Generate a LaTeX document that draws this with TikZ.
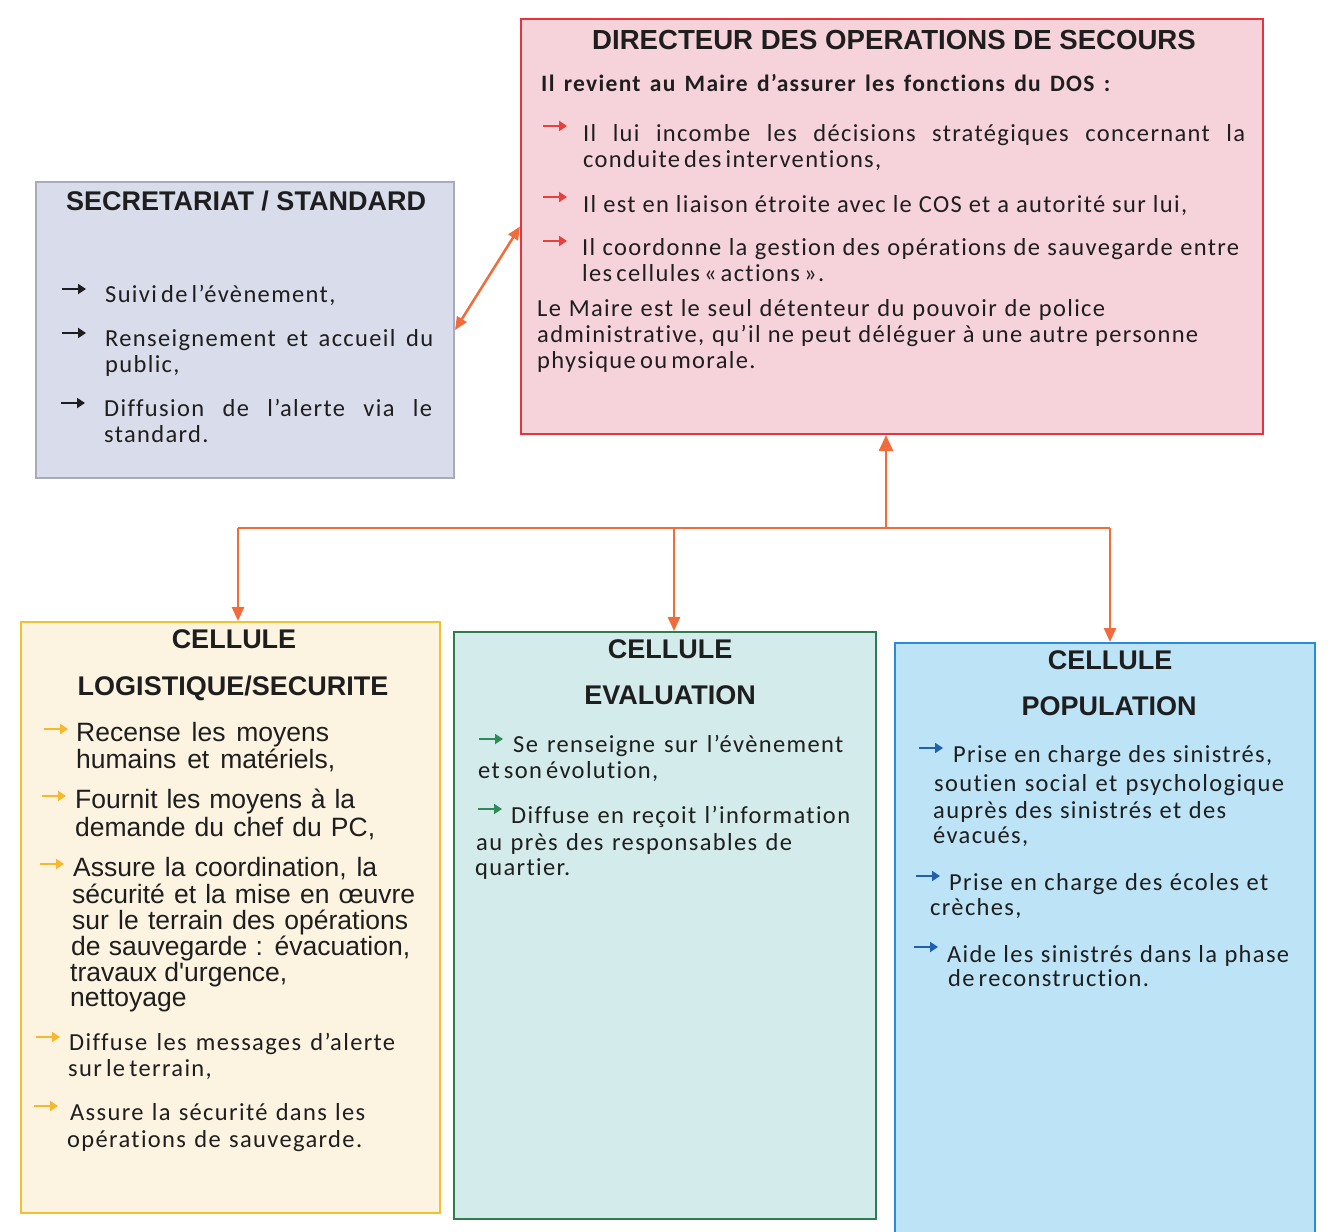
\documentclass[tikz,border=0pt]{standalone}
\usepackage{fontspec}
\setmainfont{Carlito}
\newfontfamily\bodyfont[LetterSpace=5.5,WordSpace=0.6,Ligatures=NoCommon]{Carlito}
\newfontfamily\headfont{Liberation Sans}
\newfontfamily\arialfont{Liberation Sans}
\usetikzlibrary{arrows.meta}
\definecolor{dosfill}{HTML}{F6D3DB}
\definecolor{dosline}{HTML}{E8323C}
\definecolor{secfill}{HTML}{D9DCEA}
\definecolor{secline}{HTML}{A9ABBD}
\definecolor{logfill}{HTML}{FDF3E1}
\definecolor{logline}{HTML}{F2C12E}
\definecolor{evafill}{HTML}{D3EBEA}
\definecolor{evaline}{HTML}{2E7D4F}
\definecolor{popfill}{HTML}{BDE3F7}
\definecolor{popline}{HTML}{2C8BD6}
\definecolor{connc}{HTML}{F26B3A}
\definecolor{bred}{HTML}{E8403C}
\definecolor{bgold}{HTML}{F5B82E}
\definecolor{bgreen}{HTML}{2E8B57}
\definecolor{bblue}{HTML}{2060B0}
\definecolor{ink}{HTML}{1E1E1E}
\newcommand\bodysz{\bodyfont\fontsize{24.5}{27}\selectfont}
\newcommand\ariasz{\arialfont\fontsize{26.5}{29}\selectfont}
\newcommand\txtline[6]{\node[txt,font=#5] (#1) at (#2,#3) {\makebox[#4pt][s]{#6}};}
\newcommand\txtnat[5]{\node[txt,font=#4] (#1) at (#2,#3) {#5};}
\newcommand\bularrow[3]{\draw[bul,#3] (#1,#2) -- ++(24,0);}
\tikzset{
  box/.style={draw, line width=2pt, inner sep=0pt, anchor=north west},
  txt/.style={anchor=base west, inner sep=0pt, text=ink},
  head/.style={anchor=base, inner sep=0pt, text=ink, font=\headfont\bfseries\fontsize{27}{30}\selectfont},
  conn/.style={draw=connc, line width=2.5pt},
  tip/.style={-{Triangle[length=14pt,width=12pt]}},
  bul/.style={line width=2.8pt, -{Triangle[length=8pt,width=10pt]}}
}
\begin{document}
\begin{tikzpicture}[x=1pt,y=-1pt]
\useasboundingbox (0,0) rectangle (1330,1231);
\fill[white] (0,0) rectangle (1330,1231);
% boxes
\node[box, fill=dosfill, draw=dosline, minimum width=742pt, minimum height=415pt] (dos) at (520,18) {};
\node[box, fill=secfill, draw=secline, minimum width=418pt, minimum height=296pt] (sec) at (35,181) {};
\node[box, fill=logfill, draw=logline, minimum width=419pt, minimum height=591pt] (log) at (20,621) {};
\node[box, fill=evafill, draw=evaline, minimum width=422pt, minimum height=587pt] (eva) at (453,631) {};
\node[box, fill=popfill, draw=popline, minimum width=420pt, minimum height=600pt] (pop) at (894,642) {};
% connectors
\coordinate (jd) at (886,528);
\coordinate (jl) at (238,528);
\coordinate (jm) at (674,528);
\coordinate (jr) at (1110,528);
\draw[conn] (jl) -- (jr);
\draw[conn, -{Triangle[length=16pt,width=14pt]}] (jd) -- (jd |- dos.south);
\draw[conn, tip] (jl) -- (jl |- log.north);
\draw[conn, tip] (jm) -- (jm |- eva.north);
\draw[conn, tip] (jr) -- (jr |- pop.north);
\draw[conn, {Triangle[length=13pt,width=11pt]}-{Triangle[length=13pt,width=11pt]}] (sec.east) -- (dos.west);
% DOS text
\node[head, font=\headfont\bfseries\fontsize{27.6}{30}\selectfont] (dost) at (894,50) {DIRECTEUR DES OPERATIONS DE SECOURS};
\txtline{d1}{541}{91}{569}{\bodyfont\bfseries\fontsize{23.5}{26}\selectfont}{Il revient au Maire d’assurer les fonctions du DOS :}
\bularrow{543}{126}{bred}
\txtline{d2}{583}{141}{662}{\bodysz}{Il lui incombe les décisions stratégiques concernant la}
\txtnat{d3}{583}{167}{\bodysz}{conduite des interventions,}
\bularrow{543}{197}{bred}
\txtline{d4}{583}{212}{604}{\bodysz}{Il est en liaison étroite avec le COS et a autorité sur lui,}
\bularrow{543}{241}{bred}
\txtline{d5}{582}{255}{657}{\bodysz}{Il coordonne la gestion des opérations de sauvegarde entre}
\txtnat{d6}{582}{281}{\bodysz}{les cellules « actions ».}
\txtline{d7}{537}{316}{568}{\bodysz}{Le Maire est le seul détenteur du pouvoir de police}
\txtline{d8}{537}{342}{661}{\bodysz}{administrative, qu’il ne peut déléguer à une autre personne}
\txtnat{d9}{537}{368}{\bodysz}{physique ou morale.}
% SEC text
\node[head] (sect) at (246,210) {SECRETARIAT / STANDARD};
\bularrow{62}{289}{ink}
\txtnat{s1}{105}{302}{\bodysz}{Suivi de l’évènement,}
\bularrow{62}{333}{ink}
\txtline{s2}{105}{346}{328}{\bodysz}{Renseignement et accueil du}
\txtnat{s3}{105}{372}{\bodysz}{public,}
\bularrow{61}{403}{ink}
\txtline{s4}{104}{416}{328}{\bodysz}{Diffusion de l’alerte via le}
\txtnat{s5}{104}{442}{\bodysz}{standard.}
% LOG text
\node[head] (logt1) at (234,648) {CELLULE};
\node[head] (logt2) at (233,695) {LOGISTIQUE/SECURITE};
\bularrow{44}{729}{bgold}
\txtline{g1}{76}{741}{253}{\ariasz}{Recense les moyens}
\txtline{g2}{76}{768}{259}{\ariasz}{humains et matériels,}
\bularrow{42}{796}{bgold}
\txtline{g3}{75}{808}{280}{\ariasz}{Fournit les moyens à la}
\txtline{g4}{75}{836}{300}{\ariasz}{demande du chef du PC,}
\bularrow{40}{864}{bgold}
\txtline{g5}{73}{876}{304}{\ariasz}{Assure la coordination, la}
\txtline{g6}{72}{903}{343}{\ariasz}{sécurité et la mise en œuvre}
\txtline{g7}{72}{929}{336}{\ariasz}{sur le terrain des opérations}
\txtline{g8}{71}{955}{339}{\ariasz}{de sauvegarde : évacuation,}
\txtnat{g9}{70}{981}{\ariasz}{travaux d'urgence,}
\txtnat{g10}{70}{1006}{\ariasz}{nettoyage}
\bularrow{36}{1037}{bgold}
\txtline{g11}{69}{1050}{326}{\bodysz}{Diffuse les messages d’alerte}
\txtnat{g12}{68}{1076}{\bodysz}{sur le terrain,}
\bularrow{34}{1106}{bgold}
\txtline{g13}{70}{1120}{295}{\bodysz}{Assure la sécurité dans les}
\txtline{g14}{67}{1147}{295}{\bodysz}{opérations de sauvegarde.}
% EVAL text
\node[head] (evat1) at (670,658) {CELLULE};
\node[head] (evat2) at (670,704) {EVALUATION};
\bularrow{479}{739}{bgreen}
\txtline{e1}{513}{752}{330}{\bodysz}{Se renseigne sur l’évènement}
\txtnat{e2}{478}{778}{\bodysz}{et son évolution,}
\bularrow{478}{809}{bgreen}
\txtline{e3}{511}{823}{339}{\bodysz}{Diffuse en reçoit l’information}
\txtline{e4}{476}{850}{316}{\bodysz}{au près des responsables de}
\txtnat{e5}{475}{875}{\bodysz}{quartier.}
% POP text
\node[head] (popt1) at (1110,669) {CELLULE};
\node[head] (popt2) at (1109,715) {POPULATION};
\bularrow{919}{748}{bblue}
\txtline{p1}{953}{762}{319}{\bodysz}{Prise en charge des sinistrés,}
\txtline{p2}{934}{791}{350}{\bodysz}{soutien social et psychologique}
\txtline{p3}{933}{818}{293}{\bodysz}{auprès des sinistrés et des}
\txtnat{p4}{933}{843}{\bodysz}{évacués,}
\bularrow{916}{876}{bblue}
\txtline{p5}{949}{890}{319}{\bodysz}{Prise en charge des écoles et}
\txtnat{p6}{930}{915}{\bodysz}{crèches,}
\bularrow{914}{947}{bblue}
\txtline{p7}{947}{962}{342}{\bodysz}{Aide les sinistrés dans la phase}
\txtnat{p8}{948}{986}{\bodysz}{de reconstruction.}
\end{tikzpicture}
\end{document}
